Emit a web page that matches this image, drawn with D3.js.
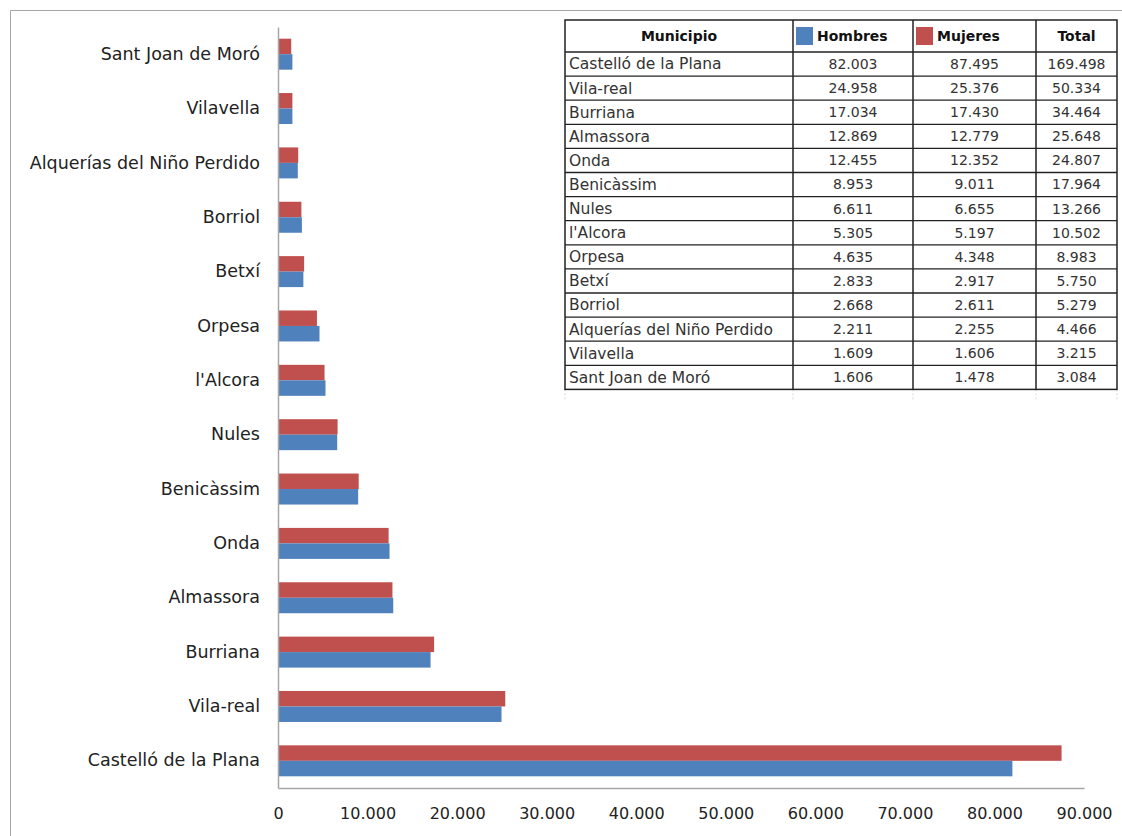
<!DOCTYPE html>
<html><head><meta charset="utf-8">
<script src="https://cdn.jsdelivr.net/npm/d3@7"></script>
<style>
html,body{margin:0;padding:0;background:#fff;}
svg{display:block;font-family:"DejaVu Sans",sans-serif;}
</style></head>
<body><svg id="c" width="1122" height="836"></svg>
<script>
// Data (table order: largest first)
const municipios = ["Castelló de la Plana","Vila-real","Burriana","Almassora","Onda","Benicàssim","Nules","l'Alcora","Orpesa","Betxí","Borriol","Alquerías del Niño Perdido","Vilavella","Sant Joan de Moró"];
const hombres = [82003,24958,17034,12869,12455,8953,6611,5305,4635,2833,2668,2211,1609,1606];
const mujeres = [87495,25376,17430,12779,12352,9011,6655,5197,4348,2917,2611,2255,1606,1478];
const totales = [169498,50334,34464,25648,24807,17964,13266,10502,8983,5750,5279,4466,3215,3084];
const xTicks = [0,10000,20000,30000,40000,50000,60000,70000,80000,90000];
const seriesNames = ["Hombres","Mujeres"];
const colors = {Hombres:"#4F81BD", Mujeres:"#C0504D"};

(function(){
const fmt = v => d3.format(",")(v).replace(/,/g,".");

const svg = d3.select("#c");
// outer frame
svg.append("path").attr("d","M10.5,836 V10.5 H1122").attr("fill","none").attr("stroke","#a6a6a6").attr("stroke-width",1);

const pLeft=278, pRight=1084, pTop=27, pBottom=788;
const x = d3.scaleLinear().domain([0,90000]).range([pLeft,pRight]);
const chartOrder = municipios.slice().reverse(); // top: Sant Joan
const y = d3.scaleBand().domain(chartOrder).range([pTop,pBottom]).paddingInner(0.43).paddingOuter(0.215);
const sub = d3.scaleBand().domain(["Mujeres","Hombres"]).range([0,y.bandwidth()]);

const rows = municipios.map((m,i)=>({m, Hombres:hombres[i], Mujeres:mujeres[i], Total:totales[i]}));

const g = svg.append("g");
rows.forEach(r=>{
  ["Mujeres","Hombres"].forEach(s=>{
    g.append("rect").attr("x",x(0)).attr("y",y(r.m)+sub(s))
     .attr("width",x(r[s])-x(0)).attr("height",sub.bandwidth())
     .attr("fill",colors[s]);
  });
});

// axes
const xAxis = d3.axisBottom(x).tickValues(xTicks).tickFormat(fmt).tickSize(0).tickPadding(20);
const xa = svg.append("g").attr("transform",`translate(0,${pBottom})`).call(xAxis);
xa.select(".domain").attr("stroke","#a6a6a6").attr("stroke-width",1.5);
xa.selectAll("text").attr("font-size",16).attr("fill","#222").attr("font-family","DejaVu Sans");

const yAxis = d3.axisLeft(y).tickSize(0).tickPadding(18);
const ya = svg.append("g").attr("transform",`translate(${pLeft},0)`).call(yAxis);
ya.select(".domain").attr("stroke","#a6a6a6").attr("stroke-width",1.5);
ya.selectAll("text").attr("font-size",17.5).attr("fill","#222").attr("font-family","DejaVu Sans");

// table
const colX = [565,793,913,1036,1117];
const tTop = 20, headH = 32, rowH = 24.1;
const tb = svg.append("g");
const nRows = rows.length;
const tBottom = tTop+headH+nRows*rowH;
colX.forEach(cx=>tb.append("line").attr("x1",cx).attr("x2",cx).attr("y1",tBottom).attr("y2",tBottom+10).attr("stroke","#d9d9d9").attr("stroke-dasharray","2,2"));
tb.append("rect").attr("x",colX[0]).attr("y",tTop).attr("width",colX[4]-colX[0]).attr("height",tBottom-tTop).attr("fill","#fff").attr("stroke","#222").attr("stroke-width",1.5);
colX.slice(1,4).forEach(cx=>tb.append("line").attr("x1",cx).attr("x2",cx).attr("y1",tTop).attr("y2",tBottom).attr("stroke","#222").attr("stroke-width",1.5));
for(let i=0;i<nRows;i++){
  const yy = tTop+headH+i*rowH;
  tb.append("line").attr("x1",colX[0]).attr("x2",colX[4]).attr("y1",yy).attr("y2",yy).attr("stroke","#222").attr("stroke-width",1.3);
}
tb.append("text").attr("x",(colX[0]+colX[1])/2).attr("y",tTop+headH/2).attr("dy","0.35em").attr("text-anchor","middle").attr("font-weight","bold").attr("font-size",14).attr("fill","#111").text("Municipio");
seriesNames.forEach((s,i)=>{
  const x0 = colX[i+1];
  tb.append("rect").attr("x",x0+3).attr("y",tTop+7).attr("width",17).attr("height",18).attr("fill",colors[s]);
  tb.append("text").attr("x",x0+24).attr("y",tTop+headH/2).attr("dy","0.35em").attr("font-weight","bold").attr("font-size",14).attr("fill","#111").text(s);
});
tb.append("text").attr("x",(colX[3]+colX[4])/2).attr("y",tTop+headH/2).attr("dy","0.35em").attr("text-anchor","middle").attr("font-weight","bold").attr("font-size",14).attr("fill","#111").text("Total");
rows.forEach((r,i)=>{
  const cy = tTop+headH+i*rowH+rowH/2;
  tb.append("text").attr("x",colX[0]+4).attr("y",cy).attr("dy","0.35em").attr("font-size",15.5).attr("fill","#333").text(r.m);
  ["Hombres","Mujeres","Total"].forEach((k,j)=>{
    tb.append("text").attr("x",(colX[j+1]+colX[j+2])/2).attr("y",cy).attr("dy","0.35em").attr("text-anchor","middle").attr("font-size",14).attr("fill","#333").text(fmt(r[k]));
  });
});
})();
</script></body></html>
